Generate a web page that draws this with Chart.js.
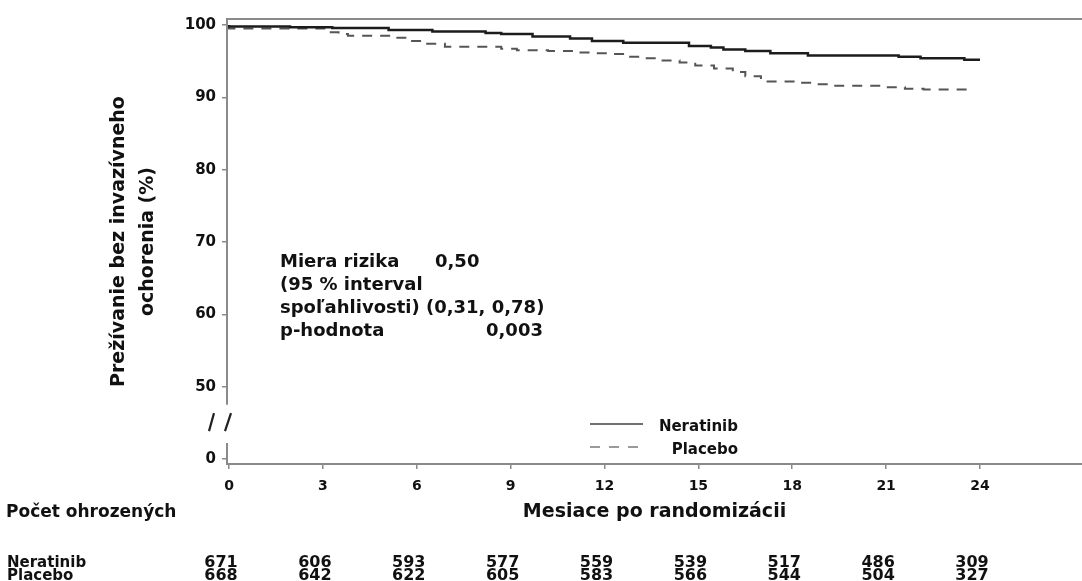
<!DOCTYPE html>
<html>
<head>
<meta charset="utf-8">
<script src="https://cdn.jsdelivr.net/npm/chart.js@4.4.1/dist/chart.umd.min.js"></script>
<style>
  html, body { margin: 0; padding: 0; background: #fff; }
  #wrap { width: 1082px; height: 581px; }
</style>
</head>
<body>
<div id="wrap"><canvas id="km"></canvas></div>
<script>
// Kaplan-Meier steps (months, % survival)
const neratinibMonths   = [0, 1.95, 3.3, 5.1, 6.5, 8.2, 8.7, 9.7, 10.9, 11.6, 12.6, 14.7, 15.4, 15.8, 16.5, 17.3, 18.5, 21.4, 22.1, 23.5, 23.7, 24.0];
const neratinibSurvival = [100, 99.8, 99.7, 99.6, 99.3, 99.1, 98.9, 98.75, 98.4, 98.15, 97.8, 97.55, 97.1, 96.9, 96.6, 96.4, 96.1, 95.8, 95.6, 95.4, 95.2, 95.2];

const placeboMonths   = [0, 3.2, 3.5, 3.8, 5.3, 5.8, 6.3, 6.9, 8.7, 9.2, 10.2, 11.0, 11.6, 12.1, 12.7, 13.3, 13.8, 14.4, 14.9, 15.5, 16.1, 16.5, 17.0, 18.1, 18.7, 19.2, 21.0, 21.6, 22.2, 22.8, 23.8];
const placeboSurvival = [100, 99.5, 99.0, 98.75, 98.5, 98.25, 97.8, 97.4, 97.0, 96.7, 96.5, 96.4, 96.2, 96.1, 96.0, 95.6, 95.4, 95.1, 94.8, 94.4, 94.0, 93.5, 92.9, 92.2, 92.0, 91.8, 91.6, 91.4, 91.2, 91.1, 91.1];

const xTicks = [0, 3, 6, 9, 12, 15, 18, 21, 24];
const yTicks = [0, 50, 60, 70, 80, 90, 100];

// number at risk table
const riskMonths    = [0, 3, 6, 9, 12, 15, 18, 21, 24];
const riskNeratinib = [671, 606, 593, 577, 559, 539, 517, 486, 309];
const riskPlacebo   = [668, 642, 622, 605, 583, 566, 544, 504, 327];

const statLines = [
  ['Miera rizika', '0,50'],
  ['(95 % interval', ''],
  ['spoľahlivosti) (0,31, 0,78)', ''],
  ['p-hodnota', '0,003']
];

// the y axis is broken: 0 is drawn where 40 would be
const ZERO_AT = 40;
const FONT = "'DejaVu Sans', sans-serif";
const AXIS_GREY = '#8a8a8a';
const INK = '#111';

const toPoints = (xs, ys) => xs.map((x, i) => ({ x: x, y: ys[i] }));

const font = (size) => 'bold ' + size + 'px ' + FONT;

const extras = {
  id: 'extras',
  afterDraw(chart) {
    const { ctx, chartArea, scales } = chart;
    const xs = scales.x, ys = scales.y;
    ctx.save();

    // top frame line
    ctx.strokeStyle = AXIS_GREY;
    ctx.lineWidth = 2;
    ctx.beginPath();
    ctx.moveTo(chartArea.left - 1, chartArea.top);
    ctx.lineTo(chartArea.right, chartArea.top);
    ctx.stroke();

    // y axis with a gap
    const yl = chartArea.left;
    ctx.beginPath();
    ctx.moveTo(yl, chartArea.top);
    ctx.lineTo(yl, ys.getPixelForValue(47.5));
    ctx.moveTo(yl, ys.getPixelForValue(42.2));
    ctx.lineTo(yl, chartArea.bottom);
    ctx.stroke();

    // break marks "/ /"
    const by = ys.getPixelForValue(45.1);
    ctx.strokeStyle = '#222';
    ctx.lineWidth = 2.2;
    ctx.beginPath();
    ctx.moveTo(yl - 18, by + 9);
    ctx.lineTo(yl - 13, by - 9);
    ctx.moveTo(yl - 2, by + 9);
    ctx.lineTo(yl + 4, by - 9);
    ctx.stroke();

    // legend
    ctx.lineWidth = 2;
    ctx.strokeStyle = '#707070';
    ctx.beginPath();
    ctx.moveTo(590, 424);
    ctx.lineTo(643, 424);
    ctx.stroke();
    ctx.strokeStyle = '#9a9a9a';
    ctx.setLineDash([10, 9]);
    ctx.beginPath();
    ctx.moveTo(590, 447);
    ctx.lineTo(640, 447);
    ctx.stroke();
    ctx.setLineDash([]);

    ctx.fillStyle = INK;
    ctx.font = font(15);
    ctx.textAlign = 'right';
    ctx.textBaseline = 'alphabetic';
    ctx.fillText('Neratinib', 738, 431);
    ctx.fillText('Placebo', 738, 454);

    // hazard ratio box
    ctx.textAlign = 'left';
    ctx.font = font(18);
    statLines.forEach((line, i) => {
      const y = 267 + i * 23;
      ctx.fillText(line[0], 280, y);
      if (line[1]) ctx.fillText(line[1], i === 0 ? 435 : 486, y);
    });

    // number at risk
    ctx.font = font(17);
    ctx.fillText('Počet ohrozených', 6, 517);
    ctx.font = font(15);
    ctx.fillText('Neratinib', 7, 567);
    ctx.fillText('Placebo', 7, 580);
    ctx.font = font(16);
    ctx.textAlign = 'center';
    riskMonths.forEach((m, i) => {
      const px = xs.getPixelForValue(m) - 8;
      ctx.fillText(String(riskNeratinib[i]), px, 567);
      ctx.fillText(String(riskPlacebo[i]), px, 580);
    });

    ctx.restore();
  }
};

const ctx = document.getElementById('km');

new Chart(ctx, {
  type: 'line',
  data: {
    datasets: [
      {
        label: 'Neratinib',
        data: toPoints(neratinibMonths, neratinibSurvival),
        stepped: 'after',
        borderColor: '#1c1c1c',
        borderWidth: 2.5,
        pointRadius: 0,
        fill: false
      },
      {
        label: 'Placebo',
        data: toPoints(placeboMonths, placeboSurvival),
        stepped: 'after',
        borderColor: '#555',
        borderWidth: 2,
        borderDash: [10, 8],
        pointRadius: 0,
        fill: false
      }
    ]
  },
  options: {
    responsive: true,
    maintainAspectRatio: false,
    animation: false,
    layout: { padding: { top: 19, right: 0, bottom: 0, left: 0 } },
    plugins: {
      legend: { display: false },
      tooltip: { enabled: false }
    },
    scales: {
      x: {
        type: 'linear',
        min: -0.064,
        max: 27.26,
        afterBuildTicks: (s) => { s.ticks = xTicks.map(v => ({ value: v })); },
        afterFit: (s) => { s.height = 117; },
        grid: { drawOnChartArea: false, drawTicks: true, tickLength: 5, color: AXIS_GREY, lineWidth: 1.5 },
        border: { display: true, color: AXIS_GREY, width: 2 },
        ticks: { color: INK, font: { family: FONT, size: 14, weight: 'bold' }, padding: 9, maxRotation: 0, autoSkip: false },
        title: {
          display: true,
          text: 'Mesiace po randomizácii',
          color: INK,
          font: { family: FONT, size: 19, weight: 'bold' },
          padding: { top: 0, bottom: 58 }
        }
      },
      y: {
        type: 'linear',
        min: 39.31,
        max: 100.83,
        afterBuildTicks: (s) => { s.ticks = yTicks.map(v => ({ value: v === 0 ? ZERO_AT : v })); },
        afterFit: (s) => { s.width = 227; },
        grid: { drawOnChartArea: false, drawTicks: true, tickLength: 5, color: AXIS_GREY, lineWidth: 1.5 },
        border: { display: false },
        ticks: {
          color: INK,
          font: { family: FONT, size: 15, weight: 'bold' },
          padding: 6,
          callback: (v) => (v === ZERO_AT ? '0' : v)
        },
        title: {
          display: true,
          text: ['Prežívanie bez invazívneho', 'ochorenia (%)'],
          color: INK,
          font: { family: FONT, size: 19, weight: 'bold', lineHeight: 1.55 },
          padding: { top: 104, bottom: 0 }
        }
      }
    }
  },
  plugins: [extras]
});
</script>
</body>
</html>
